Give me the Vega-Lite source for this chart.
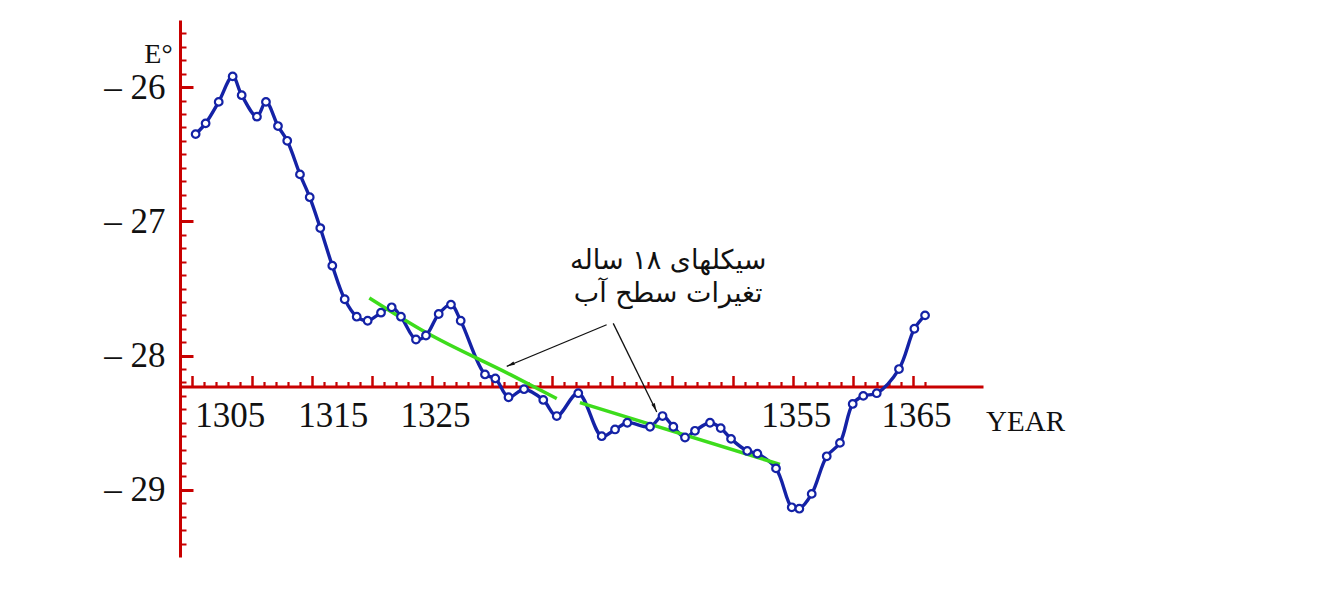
{
  "$schema": "https://vega.github.io/schema/vega-lite/v6.json",
  "width": 803,
  "height": 537,
  "autosize": {"type": "none"},
  "padding": {"left": 180, "top": 20, "right": 343, "bottom": 34},
  "background": "white",
  "config": {"view": {"stroke": null}},
  "datasets": {
    "series": [
      {"year": 1305.33, "E": -26.35}, {"year": 1306.16, "E": -26.27}, {"year": 1307.25, "E": -26.11},
      {"year": 1308.41, "E": -25.92}, {"year": 1309.16, "E": -26.06}, {"year": 1310.43, "E": -26.22},
      {"year": 1311.18, "E": -26.11}, {"year": 1312.18, "E": -26.29}, {"year": 1312.95, "E": -26.40},
      {"year": 1314.01, "E": -26.65}, {"year": 1314.82, "E": -26.82}, {"year": 1315.70, "E": -27.05},
      {"year": 1316.70, "E": -27.33}, {"year": 1317.73, "E": -27.58}, {"year": 1318.73, "E": -27.71},
      {"year": 1319.64, "E": -27.74}, {"year": 1320.75, "E": -27.68}, {"year": 1321.64, "E": -27.64},
      {"year": 1322.41, "E": -27.71}, {"year": 1323.66, "E": -27.88}, {"year": 1324.49, "E": -27.85},
      {"year": 1325.55, "E": -27.69}, {"year": 1326.57, "E": -27.62}, {"year": 1327.38, "E": -27.74},
      {"year": 1329.40, "E": -28.14}, {"year": 1330.26, "E": -28.17}, {"year": 1331.36, "E": -28.31},
      {"year": 1332.65, "E": -28.25}, {"year": 1334.25, "E": -28.33}, {"year": 1335.37, "E": -28.45},
      {"year": 1337.16, "E": -28.28}, {"year": 1339.11, "E": -28.60}, {"year": 1340.22, "E": -28.55},
      {"year": 1341.24, "E": -28.50}, {"year": 1343.13, "E": -28.53}, {"year": 1344.17, "E": -28.45},
      {"year": 1345.07, "E": -28.53}, {"year": 1346.04, "E": -28.61}, {"year": 1346.87, "E": -28.56},
      {"year": 1348.12, "E": -28.50}, {"year": 1349.01, "E": -28.54}, {"year": 1349.87, "E": -28.62},
      {"year": 1351.22, "E": -28.71}, {"year": 1352.06, "E": -28.73}, {"year": 1353.61, "E": -28.84},
      {"year": 1354.92, "E": -29.13}, {"year": 1355.55, "E": -29.14}, {"year": 1356.58, "E": -29.03},
      {"year": 1357.83, "E": -28.75}, {"year": 1358.93, "E": -28.65}, {"year": 1359.99, "E": -28.36},
      {"year": 1360.87, "E": -28.30}, {"year": 1361.99, "E": -28.28}, {"year": 1363.84, "E": -28.10},
      {"year": 1365.12, "E": -27.80}, {"year": 1366.01, "E": -27.70}
    ],
    "trend": [
      {"seg": "a", "year": 1319.78, "E": -27.57}, {"seg": "a", "year": 1324.55, "E": -27.83},
      {"seg": "a", "year": 1331.48, "E": -28.14}, {"seg": "a", "year": 1335.37, "E": -28.32},
      {"seg": "b", "year": 1337.30, "E": -28.35}, {"seg": "b", "year": 1353.94, "E": -28.81}
    ],
    "arrows": [
      {"arrow": "a", "step": 1, "year": 1339.52, "E": -27.77}, {"arrow": "a", "step": 2, "year": 1331.21, "E": -28.08},
      {"arrow": "b", "step": 1, "year": 1340.07, "E": -27.76}, {"arrow": "b", "step": 2, "year": 1343.69, "E": -28.42}
    ],
    "heads": [
      {"arrow": "a", "year": 1331.59, "E": -28.065, "heading": 247},
      {"arrow": "b", "year": 1343.50, "E": -28.38, "heading": 154}
    ],
    "notes": [
      {"line": "سیکلهای ۱۸ ساله", "year": 1344.64, "E": -27.295},
      {"line": "تغیرات سطح آب", "year": 1344.64, "E": -27.54}
    ]
  },
  "resolve": {"axis": {"x": "independent", "y": "independent"}},
  "layer": [
    {
      "data": {"name": "series"},
      "mark": {"type": "line", "color": "#1422a6", "strokeWidth": 3.4, "interpolate": "catmull-rom"},
      "encoding": {
        "x": {
          "field": "year", "type": "quantitative",
          "scale": {"domain": [1304.03, 1370.83], "nice": false, "zero": false},
          "axis": {
            "orient": "bottom", "offset": -170.5, "grid": false,
            "values": [1305, 1310, 1315, 1320, 1325, 1330, 1335, 1340, 1345, 1350, 1355, 1360, 1365],
            "tickSize": -11, "tickWidth": 2.5, "tickColor": "#c80000",
            "domainColor": "#c80000", "domainWidth": 3,
            "labelExpr": "indexof([1305, 1315, 1325, 1355, 1365], datum.value) >= 0 ? format(datum.value, 'd') : ''",
            "labelFont": "Liberation Serif", "labelFontSize": 35, "labelColor": "#111111",
            "labelBaseline": "alphabetic", "labelPadding": 50.5,
            "labelAlign": {"condition": {"test": "datum.value == 1305", "value": "left"}, "value": "center"},
            "labelOffset": {"condition": {"test": "datum.value == 1315", "value": 21}, "value": 3},
            "labelFlush": false, "labelOverlap": false,
            "title": "YEAR", "titleFont": "Liberation Serif", "titleFontSize": 29, "titleFontWeight": "normal",
            "titleColor": "#111111", "titleX": 845, "titleY": 43.5, "titleAlign": "center", "titleBaseline": "alphabetic", "titleAnchor": null
          }
        },
        "y": {
          "field": "E", "type": "quantitative",
          "scale": {"domain": [-29.5, -25.5], "nice": false, "zero": false},
          "axis": {
            "orient": "left", "grid": false,
            "values": [-29, -28, -27, -26],
            "tickSize": -13, "tickWidth": 3, "tickColor": "#c80000",
            "domainColor": "#c80000", "domainWidth": 3,
            "labelExpr": "'– ' + format(abs(datum.value), 'd')",
            "labelFont": "Liberation Serif", "labelFontSize": 35, "labelColor": "#111111",
            "labelBaseline": "middle", "labelPadding": 28, "labelAlign": "right",
            "labelFlush": false, "labelOverlap": false,
            "title": "E°", "titleAngle": 0, "titleFont": "Liberation Serif", "titleFontSize": 28, "titleFontWeight": "normal",
            "titleColor": "#111111", "titleX": -22, "titleY": 34, "titleAlign": "center", "titleBaseline": "middle", "titleAnchor": null
          }
        }
      }
    },
    {
      "data": {"name": "trend"},
      "mark": {"type": "line", "color": "#3ddc1c", "strokeWidth": 3.5, "interpolate": "monotone"},
      "encoding": {
        "x": {
          "field": "year", "type": "quantitative",
          "axis": {
            "orient": "bottom", "offset": -170.5, "grid": false, "domain": false, "labels": false, "title": null,
            "values": [1306, 1307, 1308, 1309, 1311, 1312, 1313, 1314, 1316, 1317, 1318, 1319, 1321, 1322, 1323, 1324, 1326, 1327, 1328, 1329, 1331, 1332, 1333, 1334, 1336, 1337, 1338, 1339, 1341, 1342, 1343, 1344, 1346, 1347, 1348, 1349, 1351, 1352, 1353, 1354, 1356, 1357, 1358, 1359, 1361, 1362, 1363, 1364, 1366],
            "tickSize": -5, "tickWidth": 2.2, "tickColor": "#c80000"
          }
        },
        "y": {
          "field": "E", "type": "quantitative",
          "axis": {
            "orient": "left", "grid": false, "domain": false, "labels": false, "title": null,
            "values": [-29.4, -29.3, -29.2, -29.1, -28.9, -28.8, -28.7, -28.6, -28.5, -28.4, -28.3, -28.2, -28.1, -27.9, -27.8, -27.7, -27.6, -27.5, -27.4, -27.3, -27.2, -27.1, -26.9, -26.8, -26.7, -26.6, -26.5, -26.4, -26.3, -26.2, -26.1, -25.9, -25.8, -25.7, -25.6],
            "tickSize": -6, "tickWidth": 2, "tickColor": "#c80000"
          }
        },
        "detail": {"field": "seg", "type": "nominal"}
      }
    },
    {
      "data": {"name": "series"},
      "mark": {"type": "point", "shape": "circle", "filled": false, "fill": "white", "fillOpacity": 1, "stroke": "#1422a6", "strokeWidth": 2.2, "size": 58, "opacity": 1},
      "encoding": {
        "x": {"field": "year", "type": "quantitative", "axis": null},
        "y": {"field": "E", "type": "quantitative", "axis": null}
      }
    },
    {
      "data": {"name": "arrows"},
      "mark": {"type": "line", "color": "#111111", "strokeWidth": 1.3},
      "encoding": {
        "x": {"field": "year", "type": "quantitative", "axis": null},
        "y": {"field": "E", "type": "quantitative", "axis": null},
        "detail": {"field": "arrow", "type": "nominal"},
        "order": {"field": "step", "type": "quantitative"}
      }
    },
    {
      "data": {"name": "heads"},
      "mark": {"type": "point", "shape": "M0,-1L0.42,0.7L-0.42,0.7Z", "filled": true, "color": "#111111", "size": 80, "opacity": 1},
      "encoding": {
        "x": {"field": "year", "type": "quantitative", "axis": null},
        "y": {"field": "E", "type": "quantitative", "axis": null},
        "angle": {"field": "heading", "type": "quantitative", "scale": null}
      }
    },
    {
      "data": {"name": "notes"},
      "mark": {"type": "text", "font": "DejaVu Sans", "fontSize": 27, "color": "#111111", "align": "center", "baseline": "middle"},
      "encoding": {
        "x": {"field": "year", "type": "quantitative", "axis": null},
        "y": {"field": "E", "type": "quantitative", "axis": null},
        "text": {"field": "line", "type": "nominal"}
      }
    }
  ]
}
